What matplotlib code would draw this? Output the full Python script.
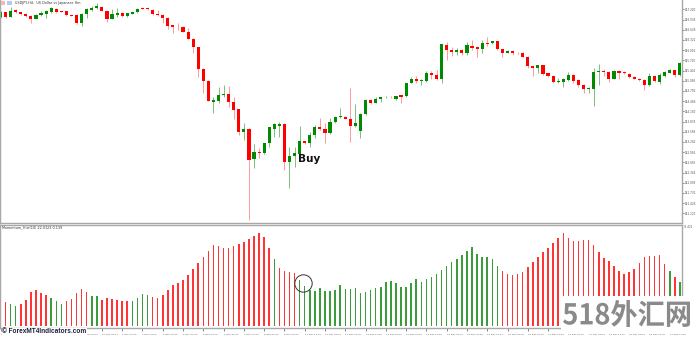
import numpy as np
import pandas as pd
import matplotlib
matplotlib.use("Agg")
import matplotlib.pyplot as plt
from matplotlib.textpath import TextPath
from matplotlib.patches import PathPatch, Rectangle
from matplotlib.font_manager import FontProperties
from matplotlib.transforms import Affine2D

# ---------------- data (USDJPY H4) ----------------
opens = [
    147.00, 147.15, 147.02, 147.22, 147.15, 147.10, 147.04, 146.96, 147.07, 147.10,
    147.16, 147.26, 147.19, 147.18, 147.07, 147.07, 146.82, 147.10, 147.22, 147.28,
    147.32, 147.18, 146.96, 147.08, 147.12, 147.05, 147.11, 147.15, 147.28, 147.28,
    147.22, 147.10, 147.07, 146.99, 146.76, 146.72, 146.72, 146.56, 146.35, 146.10,
    145.45, 145.10, 144.47, 144.49, 144.66, 144.69, 144.47, 144.24, 143.57, 143.65,
    142.74, 142.97, 142.92, 143.22, 143.64, 143.74, 143.80, 142.66, 142.85, 142.90,
    143.28, 143.22, 143.46, 143.72, 143.64, 143.52, 143.86, 144.00, 144.02, 143.96,
    143.74, 143.60, 144.10, 144.52, 144.44, 144.56, 144.60, 144.62, 144.54, 144.66,
    144.64, 145.04, 145.15, 145.10, 145.10, 145.32, 145.26, 145.14, 146.18, 146.02,
    145.97, 146.02, 145.92, 146.15, 146.10, 146.04, 146.23, 146.22, 146.28, 146.04,
    145.94, 145.99, 145.94, 145.94, 145.82, 145.54, 145.47, 145.56, 145.32, 145.24,
    145.06, 145.07, 145.12, 145.28, 145.12, 144.97, 144.84, 144.84, 145.37, 145.40,
    145.37, 145.16, 145.40, 145.36, 145.31, 145.22, 145.16, 145.12, 144.97, 145.24,
    145.06, 145.24, 145.34, 145.41, 145.27]
highs = [
    147.19, 147.17, 147.30, 147.25, 147.17, 147.12, 147.06, 147.09, 147.20, 147.22,
    147.30, 147.28, 147.20, 147.20, 147.08, 147.09, 147.12, 147.27, 147.35, 147.42,
    147.34, 147.20, 147.24, 147.28, 147.17, 147.14, 147.19, 147.28, 147.30, 147.30,
    147.24, 147.22, 147.09, 147.01, 146.78, 146.84, 146.74, 146.67, 146.37, 146.12,
    145.47, 145.12, 144.62, 144.92, 144.97, 144.94, 144.62, 144.26, 143.82, 143.67,
    143.20, 143.07, 143.24, 143.72, 143.82, 143.87, 143.82, 143.12, 143.12, 143.74,
    143.30, 143.57, 143.77, 143.97, 143.82, 143.97, 144.04, 144.27, 144.04, 144.87,
    144.40, 144.12, 144.54, 144.54, 144.60, 144.62, 144.64, 144.64, 144.65, 144.68,
    145.04, 145.22, 145.24, 145.14, 145.40, 145.40, 145.42, 146.21, 146.27, 146.12,
    146.09, 146.04, 146.27, 146.32, 146.12, 146.32, 146.42, 146.30, 146.30, 146.06,
    146.02, 146.01, 145.96, 145.96, 145.84, 145.56, 145.58, 145.58, 145.34, 145.26,
    145.17, 145.17, 145.37, 145.30, 145.14, 144.99, 144.90, 145.47, 145.60, 145.44,
    145.39, 145.41, 145.42, 145.38, 145.33, 145.24, 145.18, 145.14, 145.34, 145.26,
    145.34, 145.38, 145.44, 145.43, 145.65]
lows = [
    146.98, 146.97, 147.00, 147.14, 147.07, 147.02, 146.82, 146.94, 147.04, 146.97,
    147.12, 147.14, 147.16, 147.04, 147.04, 146.80, 146.75, 146.97, 147.20, 147.26,
    147.18, 146.87, 146.94, 147.02, 147.02, 147.00, 147.09, 147.13, 147.24, 147.22,
    147.08, 147.05, 146.84, 146.64, 146.52, 146.62, 146.55, 146.34, 145.92, 145.22,
    144.72, 144.48, 144.14, 144.42, 144.62, 144.32, 143.94, 143.47, 143.32, 140.92,
    142.47, 142.77, 142.90, 143.12, 143.42, 143.42, 142.42, 141.87, 142.52, 142.87,
    143.20, 143.12, 143.37, 143.62, 143.22, 143.50, 143.82, 143.97, 143.94, 143.27,
    143.72, 143.37, 144.08, 144.40, 144.42, 144.47, 144.58, 144.58, 144.52, 144.42,
    144.62, 145.02, 145.02, 144.97, 145.07, 145.14, 145.12, 145.02, 145.72, 145.84,
    145.87, 145.87, 145.87, 146.02, 145.82, 145.92, 146.14, 146.20, 146.02, 145.82,
    145.92, 145.87, 145.90, 145.80, 145.47, 145.24, 145.32, 145.28, 145.22, 145.04,
    145.02, 144.90, 145.10, 145.02, 144.90, 144.72, 144.72, 144.34, 144.97, 145.24,
    145.07, 145.14, 145.14, 145.30, 145.18, 145.14, 145.09, 144.82, 144.95, 145.06,
    145.00, 145.22, 145.32, 145.20, 145.25]
closes = [
    147.17, 147.02, 147.20, 147.16, 147.09, 147.04, 146.94, 147.07, 147.14, 147.18,
    147.27, 147.16, 147.17, 147.06, 147.05, 146.82, 147.10, 147.24, 147.29, 147.33,
    147.20, 146.95, 147.10, 147.12, 147.04, 147.12, 147.17, 147.26, 147.25, 147.24,
    147.10, 147.06, 146.99, 146.75, 146.72, 146.70, 146.57, 146.36, 146.10, 145.45,
    145.10, 144.50, 144.52, 144.67, 144.69, 144.47, 144.22, 143.57, 143.65, 142.72,
    142.97, 142.92, 143.22, 143.70, 143.80, 143.80, 142.66, 142.84, 142.94, 143.28,
    143.22, 143.46, 143.72, 143.64, 143.52, 143.86, 144.02, 144.04, 143.96, 143.74,
    143.84, 144.10, 144.52, 144.42, 144.56, 144.60, 144.62, 144.60, 144.63, 144.62,
    145.02, 145.14, 145.09, 145.12, 145.32, 145.26, 145.14, 146.19, 146.02, 145.96,
    146.03, 145.92, 146.17, 146.09, 146.04, 146.22, 146.19, 146.28, 146.04, 145.94,
    146.00, 145.94, 145.92, 145.82, 145.54, 145.47, 145.56, 145.30, 145.24, 145.06,
    145.10, 145.15, 145.27, 145.10, 144.96, 144.84, 144.87, 145.37, 145.40, 145.36,
    145.14, 145.39, 145.34, 145.32, 145.21, 145.16, 145.11, 144.97, 145.24, 145.08,
    145.26, 145.36, 145.42, 145.27, 145.63]

hist_values = [
    18.75, 18.25, 16.25, 15.0, 16.25, 19.5, 25.25, 27.0, 25.0, 23.25,
    20.75, 18.5, 16.5, 18.5, 20.0, 24.5, 27.5, 25.75, 22.5, 22.5,
    19.5, 20.75, 20.25, 19.5, 18.75, 19.0, 18.5, 20.75, 24.0, 23.25,
    21.75, 21.25, 23.5, 27.0, 30.75, 32.5, 34.5, 38.25, 42.5, 47.0,
    52.0, 56.25, 60.5, 60.0, 58.25, 58.5, 60.0, 61.25, 63.0, 65.5,
    67.75, 69.5, 67.0, 58.25, 50.0, 43.25, 41.0, 40.5, 40.0, 34.5,
    29.75, 27.0, 26.5, 28.25, 26.25, 26.25, 27.0, 30.5, 28.0, 28.0,
    28.25, 25.0, 25.75, 27.0, 28.25, 29.5, 32.75, 34.0, 32.5, 29.0,
    29.5, 32.5, 35.0, 33.25, 35.0, 36.5, 38.75, 42.0, 45.25, 47.75,
    50.0, 53.25, 56.5, 59.5, 54.0, 52.0, 51.5, 50.0, 45.25, 41.5,
    38.75, 38.25, 39.0, 40.25, 44.0, 48.0, 51.75, 55.25, 58.5, 62.5,
    66.0, 69.5, 66.0, 64.0, 63.5, 64.5, 64.5, 61.0, 55.5, 51.25,
    49.0, 45.0, 41.5, 39.0, 40.25, 42.5, 47.0, 51.5, 52.5, 52.5,
    53.25, 46.25, 41.25, 36.5, 33.25]
hist_dir = ("RRGGRRRRRR" "GGGRRRRRGG" "RRRRRRGGGG" "RRRRRRRRRR" "RRRRRRRRRR"
            "RRRRGRRRRG" "GGGGGGGGGG" "GGGGGGGGGG" "GGGGGGGGGG" "GGGGGGGGGR"
            "RRRRRRRRRR" "RRRRRRRRRR" "RRRRRRRRRR" "RRGRG")

price_ticks = [147.240 - 0.306 * k for k in range(21)]

# ---------------- figure ----------------
W, H = 696, 340
fig = plt.figure(figsize=(W / 100, H / 100), dpi=100)
fig.patch.set_facecolor("white")

ax1 = fig.add_axes([0, (H - 223) / H, 682 / W, 223 / H])
ax2 = fig.add_axes([0, (H - 328) / H, 682 / W, 103 / H])

n = len(opens)
x = np.arange(n)
o = np.array(opens); c = np.array(closes)
hi = np.array(highs); lo = np.array(lows)
up = c >= o

RED = "#ff0000"
GREEN = "#008a00"
wick_cols = np.where(up, "#7cc07c", "#ff9a9a")
body_cols = np.where(up, GREEN, RED)

ax1.vlines(x, lo, hi, colors=wick_cols, linewidth=0.7, zorder=1)
bot = np.minimum(o, c)
hgt = np.maximum(np.abs(c - o), 0.025)
ax1.bar(x, hgt, bottom=bot, width=0.62, color=body_cols, linewidth=0, zorder=2)

xl = (-0.1, -0.1 + 682 / 5.07)
ax1.set_xlim(*xl)
ax1.set_ylim(147.52 - 6.69, 147.52)

ax1.yaxis.tick_right()
ax1.set_yticks(price_ticks)
ax1.set_yticklabels([f"{v:.3f}" for v in price_ticks])
ax1.tick_params(axis="y", labelsize=1.95, length=1.5, width=0.5, pad=0.6,
                colors="#555555")
ax1.set_xticks([])

for ax in (ax1, ax2):
    for s in ax.spines.values():
        s.set_color("#a8a8a8")
        s.set_linewidth(1.0)
ax1.spines["top"].set_visible(False)

ax1.text(58.6, 142.67, "Buy", fontsize=7.6, fontweight="bold",
         color="#111111", ha="left", va="baseline", family="DejaVu Sans")

# ---------------- histogram panel ----------------
hcols = ["#3a9c3a" if d == "G" else "#ff3535" for d in hist_dir]
ax2.bar(x, hist_values, width=0.3, color=hcols, linewidth=0)
ax2.set_xlim(*xl)
ax2.set_ylim(-1.5, 75.75)
ax2.set_yticks([])

sig = [i for i in range(56, n) if hist_dir[i] == "G" and hist_dir[i - 1] == "R"][0]
ax2.plot([sig + 0.6], [hist_values[sig] - 2.5], marker="o", ms=12.5,
         mfc="none", mec="#333333", mew=0.7)

times = pd.date_range("2023-11-27 12:00", periods=300, freq="4h")
times = times[times.dayofweek < 5][:n]
tpos = list(range(0, n, 4))
tlabels = []
for k, i in enumerate(tpos):
    t = times[i]
    if k == 0:
        tlabels.append(f"{t.day} {t.strftime('%b %Y')}")
    else:
        tlabels.append(f"{t.day} {t.strftime('%b %H:%M')}")
ax2.set_xticks(tpos)
ax2.set_xticklabels(tlabels)
for lbl in ax2.get_xticklabels():
    lbl.set_ha("left")
ax2.tick_params(axis="x", labelsize=1.75, length=2, width=0.5, pad=2.5,
                colors="#555555")

# ---------------- texts ----------------
fig.text(15 / W, 1 - 2.6 / H, "USDJPY,H4:  US Dollar vs Japanese Yen",
         fontsize=2.4, color="#333333", va="center", ha="left")
fig.add_artist(Rectangle((1 / W, 1 - 4.5 / H), 4 / W, 3.5 / H,
                         transform=fig.transFigure, fc="#f4b8b8", ec="none"))
fig.add_artist(Rectangle((7 / W, 1 - 4.5 / H), 5 / W, 3.5 / H,
                         transform=fig.transFigure, fc="#b8c8f0", ec="none"))
fig.text(1.5 / W, 1 - 227.5 / H, "Momentum_Hist(10) 22.0123 0.139",
         fontsize=2.4, color="#333333", va="center", ha="left")
fig.text(684 / W, 1 - 226.5 / H, "75.421", fontsize=1.95, color="#555555",
         va="center", ha="left")

fig.text(2 / W, 1 - 331.5 / H, "\u00a9 ForexMT4Indicators.com", fontsize=4.7,
         fontweight="bold", family="Liberation Sans", color="#1e2238",
         va="center", ha="left", zorder=7,
         bbox=dict(boxstyle="square,pad=0.05", fc="white", ec="none"))

# watermark
fig.add_artist(Rectangle((561 / W, (H - 334) / H), 131 / W, 38 / H,
                         transform=fig.transFigure, fc="white", ec="none",
                         zorder=5))
fp = FontProperties(family="Noto Sans CJK SC", weight="bold")
tp = TextPath((0, 0), "518外汇网", size=1, prop=fp)
ext = tp.get_extents()
tx0, ty0, tw, th = ext.x0, ext.y0, ext.width, ext.height
gx0, gx1, gy0, gy1 = 563, 690, 300, 327
tr = (Affine2D().translate(-tx0, -ty0)
      .scale((gx1 - gx0) / tw, (gy1 - gy0) / th)
      .translate(gx0, H - gy1))
patch = PathPatch(tp, transform=tr, fc="#8a8a8a", ec="none", zorder=6)
fig.add_artist(patch)

fig.savefig("out.png", dpi=100, facecolor="white")
